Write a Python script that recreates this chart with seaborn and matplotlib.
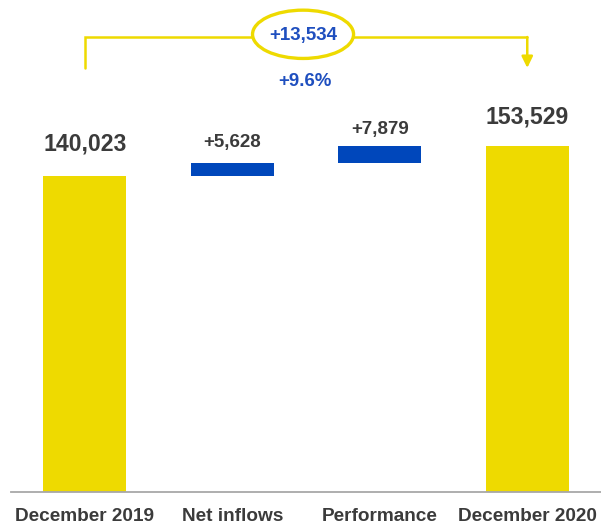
import matplotlib
matplotlib.use("Agg")
import matplotlib.pyplot as plt
from matplotlib.patches import Ellipse
import pandas as pd
import seaborn as sns

# --- data -------------------------------------------------------------
categories = ["December 2019", "Net inflows", "Performance", "December 2020"]
values = [140023, 5628, 7879, 153529]
kinds = ["total", "delta", "delta", "total"]
total_change_label = "+13,534"
pct_change_label = "+9.6%"

# --- style ------------------------------------------------------------
YELLOW = "#EEDA00"
BLUE = "#0047BB"
TEXT_DARK = "#3b3b3b"
TEXT_BLUE = "#1F4FBF"
AXIS_GREY = "#A8A8A8"
label_gap_px = [25, 16, 12, 22]

sns.set_style("white")
plt.rcParams["font.family"] = ["Liberation Sans", "DejaVu Sans"]

# floating bars: totals start at zero, deltas sit on the running total
bases, running = [], 0
for v, k in zip(values, kinds):
    if k == "total":
        bases.append(0)
        running = v
    else:
        bases.append(running)
        running += v

df = pd.DataFrame({"category": categories, "value": values,
                   "base": bases, "kind": kinds})
colors = [YELLOW if k == "total" else BLUE for k in kinds]

fig = plt.figure(figsize=(6.01, 5.32), dpi=100)
ax = fig.add_axes([11 / 601, 40 / 532, 590 / 601, 492 / 532])

sns.barplot(data=df, x="category", y="value", hue="category",
            palette=colors, legend=False, width=0.56, saturation=1,
            order=categories, hue_order=categories, ax=ax)

for patch, base in zip(ax.patches, df["base"]):
    patch.set_y(base)
    patch.set_linewidth(0)

ax.set_xlim(-0.5, 3.5)
ax.set_ylim(0, 218000)

# value labels above each bar
for i, (v, k, base) in enumerate(zip(values, kinds, bases)):
    top = base + v
    text = f"{v:,}" if k == "total" else f"+{v:,}"
    size = 16.6 if k == "total" else 13.5
    ax.annotate(text, xy=(i, top), xytext=(0, label_gap_px[i]),
                textcoords="offset pixels", ha="center", va="baseline",
                fontsize=size, fontweight="bold", color=TEXT_DARK)

# bracket from the first total to the last total
bracket_y = 201600
drop_y = 187900
ax.plot([0, 0, 3], [drop_y, bracket_y, bracket_y], color=YELLOW, lw=1.8,
        solid_joinstyle="miter", zorder=3)
ax.annotate("", xy=(3, drop_y), xytext=(3, bracket_y),
            arrowprops=dict(arrowstyle="-|>,head_length=0.45,head_width=0.22",
                            color=YELLOW, lw=1.8, mutation_scale=15,
                            shrinkA=0, shrinkB=0), zorder=3)
ax.add_patch(Ellipse((1.48, 202800), width=0.685, height=21400,
                     facecolor="white", edgecolor=YELLOW, lw=2.4, zorder=4))
ax.text(1.48, 200300, total_change_label, ha="center", va="baseline",
        fontsize=13.5, fontweight="bold", color=TEXT_BLUE, zorder=5)
ax.text(1.49, 179900, pct_change_label, ha="center", va="baseline",
        fontsize=13.4, fontweight="bold", color=TEXT_BLUE, zorder=5)

# axes styling
for side in ("left", "top", "right"):
    ax.spines[side].set_visible(False)
ax.spines["bottom"].set_color(AXIS_GREY)
ax.spines["bottom"].set_linewidth(1.3)
ax.spines["bottom"].set_zorder(3)
ax.set_yticks([])
ax.set_xlabel("")
ax.set_ylabel("")
ax.tick_params(axis="x", length=0, pad=11.5, labelsize=13.7, labelcolor=TEXT_DARK)
for lbl in ax.get_xticklabels():
    lbl.set_fontweight("bold")

fig.savefig("out.png", dpi=100)
